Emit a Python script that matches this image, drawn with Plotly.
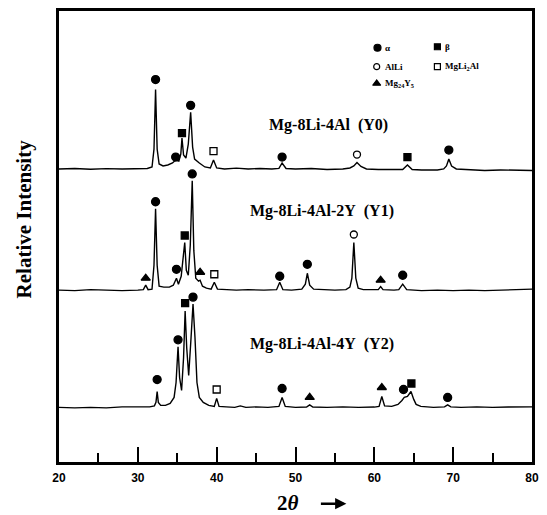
import plotly.graph_objects as go

# ---------------- data ----------------
# 2-theta (deg) and relative intensity (arbitrary units, baseline = 0)
two_theta_y0 = [20.0, 22.0, 24.0, 26.0, 28.0, 30.0, 31.2, 31.8, 32.05, 32.25, 32.45, 32.7, 33.2, 33.8,
                34.4, 34.8, 35.2, 35.45, 35.6, 35.8, 36.1, 36.4, 36.7, 36.95, 37.2, 37.8, 38.5, 39.2,
                39.6, 40.0, 41.0, 42.5, 44.0, 45.5, 47.0, 47.9, 48.3, 48.8, 50.0, 52.0, 54.0, 56.0,
                56.9, 57.4, 57.8, 58.3, 59.0, 60.5, 62.0, 63.6, 64.2, 64.8, 66.0, 68.0, 68.8, 69.15,
                69.45, 69.8, 70.4, 72.0, 74.0, 76.0, 78.0, 80.0]
intensity_y0 = [0, 0.5, -0.3, 0.3, 0, 0.3, 0.5, 2, 20, 80, 20, 5, 3, 4,
                6, 9, 8, 15, 31, 14, 11, 25, 57, 22, 10, 6, 2, 1,
                9, 1, 0, 0.8, 0, 0.5, 0, 0.5, 6, 0.5, 0, 0.5, -0.5, 0,
                1, 3, 6.5, 2.5, 0, -0.5, -0.5, -0.5, 4, -0.5, -1, -1, 0, 3,
                10, 3, 0, -1, -1.5, -1, -1.5, -1.5]

two_theta_y1 = [20.0, 22.0, 24.0, 26.0, 28.0, 30.0, 30.7, 31.0, 31.3, 31.8, 32.05, 32.25, 32.45, 32.7,
                33.3, 34.0, 34.5, 34.9, 35.15, 35.5, 35.75, 35.95, 36.15, 36.4, 36.65, 36.9, 37.1, 37.35,
                37.7, 37.9, 38.2, 38.7, 39.3, 39.7, 40.1, 41.0, 42.5, 44.0, 46.0, 47.6, 48.0, 48.4,
                49.5, 50.8, 51.25, 51.5, 51.8, 52.3, 53.5, 55.0, 56.4, 56.9, 57.15, 57.4, 57.65, 57.95,
                58.6, 60.0, 60.5, 60.8, 61.1, 62.5, 63.1, 63.6, 64.1, 66.0, 68.0, 70.0, 72.0, 74.0,
                76.0, 78.0, 80.0]
intensity_y1 = [0, -0.5, 0.5, 0, -0.5, 0, 0.5, 5, 0.5, 1, 25, 82, 25, 4,
                3, 3, 5, 12, 6, 14, 30, 48, 20, 15, 45, 110, 40, 12,
                9, 10, 4, 2, 1, 8, 1, 0.5, 0, 0.5, 0, 0.5, 8, 0.5,
                0, 1, 6, 17, 5, 1, 0.5, 0, 0.5, 3, 12, 48, 12, 2,
                0.5, 0, 0.5, 3.5, 0.5, 0, 0.5, 6, 0.5, -0.5, 0, -0.5, 0, -0.5,
                0, 0.5, 1]

two_theta_y2 = [20.0, 22.0, 24.0, 26.0, 28.0, 30.0, 31.5, 32.1, 32.3, 32.45, 32.6, 32.9, 33.5, 34.1,
                34.6, 34.85, 35.1, 35.3, 35.55, 35.8, 36.0, 36.2, 36.45, 36.75, 37.0, 37.25, 37.5, 37.8,
                38.3, 39.0, 39.7, 40.0, 40.3, 41.2, 42.3, 43.0, 43.7, 45.0, 46.5, 47.9, 48.3, 48.7,
                50.0, 51.4, 51.8, 52.2, 54.0, 56.0, 58.0, 60.0, 60.6, 60.95, 61.3, 62.2, 63.0, 63.5,
                63.8, 64.2, 64.65, 65.0, 65.3, 65.9, 67.5, 68.9, 69.3, 69.7, 71.0, 73.0, 75.0, 77.0,
                80.0]
intensity_y2 = [0, -0.5, 0, -0.5, 0.5, 0.3, 0.5, 1.5, 5, 16, 5, 2, 2, 4,
                10, 25, 61, 30, 17, 50, 97, 60, 32, 70, 104, 70, 25, 10,
                5, 2, 1, 9, 1, 0.5, 0, 1.5, 0, 0.5, 0, 1, 10, 1,
                0, 0.3, 2.5, 0.3, 0, 0.5, 0, 0.3, 1, 11, 1.5, 1, 3, 7,
                10, 11, 16, 8, 3, 1, 0, 0.5, 2.5, 0.5, 0, 0.5, 0, 0.3,
                0.5]

pattern_names = ["Mg-8Li-4Al\u00a0\u00a0(Y0)", "Mg-8Li-4Al-2Y\u00a0\u00a0(Y1)", "Mg-8Li-4Al-4Y\u00a0\u00a0(Y2)"]
pattern_offsets = [295, 173, 55]

# phase identification marks: 2-theta, height above baseline, phase
mark_theta_y0 = [32.25, 34.8, 35.6, 36.7, 39.6, 48.3, 57.8, 64.2, 69.45]
mark_height_y0 = [90, 12, 36, 64, 18, 12, 14.5, 12, 19]
mark_phase_y0 = ["a", "a", "b", "a", "MgLi2Al", "a", "AlLi", "b", "a"]

mark_theta_y1 = [31.0, 32.25, 34.9, 35.95, 36.9, 37.9, 39.7, 48.0, 51.5, 57.4, 60.8, 63.6]
mark_height_y1 = [12, 89, 21, 55, 117, 18, 16, 14, 26, 56, 10, 15]
mark_phase_y1 = ["Mg24Y5", "a", "a", "b", "a", "Mg24Y5", "MgLi2Al", "a", "a", "AlLi", "Mg24Y5", "a"]

mark_theta_y2 = [32.45, 35.1, 36.0, 37.0, 40.0, 48.3, 51.8, 60.95, 63.7, 64.7, 69.3]
mark_height_y2 = [28, 68, 105, 111, 18, 19, 10, 20, 18, 24, 10]
mark_phase_y2 = ["a", "a", "b", "a", "MgLi2Al", "a", "Mg24Y5", "Mg24Y5", "a", "b", "a"]

phase_keys = ["a", "b", "AlLi", "MgLi2Al", "Mg24Y5"]
phase_labels = ["α", "β", "AlLi", "MgLi<sub>2</sub>Al", "Mg<sub>24</sub>Y<sub>5</sub>"]

x_ticks = [20, 30, 40, 50, 60, 70, 80]

# ---------------- styles ----------------
symbols = {"a": ("circle", 8), "b": ("square", 7), "AlLi": ("circle-open", 7),
           "MgLi2Al": ("square-open", 7), "Mg24Y5": ("triangle-up", 8)}
SERIF = "Liberation Serif, Times New Roman, serif"

fig = go.Figure()

curves = [(two_theta_y0, intensity_y0), (two_theta_y1, intensity_y1), (two_theta_y2, intensity_y2)]
marks = [(mark_theta_y0, mark_height_y0, mark_phase_y0),
         (mark_theta_y1, mark_height_y1, mark_phase_y1),
         (mark_theta_y2, mark_height_y2, mark_phase_y2)]

for (tx, iy), off in zip(curves, pattern_offsets):
    fig.add_trace(go.Scatter(x=tx, y=[v + off for v in iy], mode="lines",
                             line=dict(color="black", width=1.4), showlegend=False,
                             hoverinfo="skip"))

for (mt, mh, mp), off in zip(marks, pattern_offsets):
    for key in phase_keys:
        xs = [t for t, p in zip(mt, mp) if p == key]
        ys = [h + off for h, p in zip(mh, mp) if p == key]
        if not xs:
            continue
        sym, size = symbols[key]
        fig.add_trace(go.Scatter(x=xs, y=ys, mode="markers",
                                 marker=dict(symbol=sym, size=size, color="black",
                                             line=dict(color="black", width=1.3)),
                                 showlegend=False, hoverinfo="skip"))

# phase key (legend drawn inside the plot)
legend_x = [60.4, 68.0, 60.3, 68.0, 60.3]
legend_y = [417, 418, 398, 398, 381]
for key, lab, lx, ly in zip(phase_keys, phase_labels, legend_x, legend_y):
    sym, size = symbols[key]
    fig.add_trace(go.Scatter(x=[lx], y=[ly], mode="markers",
                             marker=dict(symbol=sym, size=size - 1, color="black",
                                         line=dict(color="black", width=1.2)),
                             showlegend=False, hoverinfo="skip"))
    fig.add_annotation(x=lx + 0.75, y=ly, text="<b>%s</b>" % lab, showarrow=False,
                       xanchor="left", yanchor="middle",
                       font=dict(family=SERIF, size=9, color="black"))

# sample labels
label_x = [54.2, 53.3, 53.3]
label_y = [339, 253, 119]
for name, lx, ly in zip(pattern_names, label_x, label_y):
    fig.add_annotation(x=lx, y=ly, text="<b>%s</b>" % name, showarrow=False,
                       xanchor="center", yanchor="middle",
                       font=dict(family=SERIF, size=16, color="black"))

# axis titles
fig.add_annotation(xref="paper", yref="paper", x=-0.072, y=0.54,
                   text="<b>Relative Intensity</b>", textangle=-90, showarrow=False,
                   xanchor="center", yanchor="middle",
                   font=dict(family=SERIF, size=21, color="black"))
fig.add_annotation(xref="paper", yref="paper", x=(288 - 59) / 474, y=-(503 - 462) / 454,
                   text="<b>2<i>θ</i></b>", showarrow=False,
                   xanchor="center", yanchor="middle",
                   font=dict(family=SERIF, size=21, color="black"))
fig.add_annotation(xref="paper", yref="paper", x=(347 - 59) / 474, y=-(504 - 462) / 454,
                   ax=-27, ay=0, text="", showarrow=True, arrowhead=2, arrowsize=0.9,
                   arrowwidth=2.5, arrowcolor="black")

fig.update_layout(
    width=547, height=515,
    margin=dict(l=59, r=14, t=8, b=53),
    paper_bgcolor="white", plot_bgcolor="white",
    xaxis=dict(range=[20, 80], tickvals=x_ticks, ticktext=[str(v) for v in x_ticks],
               ticks="inside", ticklen=15, tickwidth=2, tickcolor="black",
               minor=dict(dtick=5, tick0=20, ticks="inside", ticklen=9, tickwidth=1.5,
                          tickcolor="black"),
               showline=True, linecolor="black", linewidth=2.5, mirror=True,
               showgrid=False, zeroline=False, ticklabelstandoff=3,
               tickfont=dict(family="Liberation Sans, Arial, sans-serif", size=12,
                             color="black", weight="bold")),
    yaxis=dict(range=[0, 454], showticklabels=False, ticks="", showgrid=False,
               zeroline=False, showline=True, linecolor="black", linewidth=2.5,
               mirror=True),
)

fig.write_html("out.html")
